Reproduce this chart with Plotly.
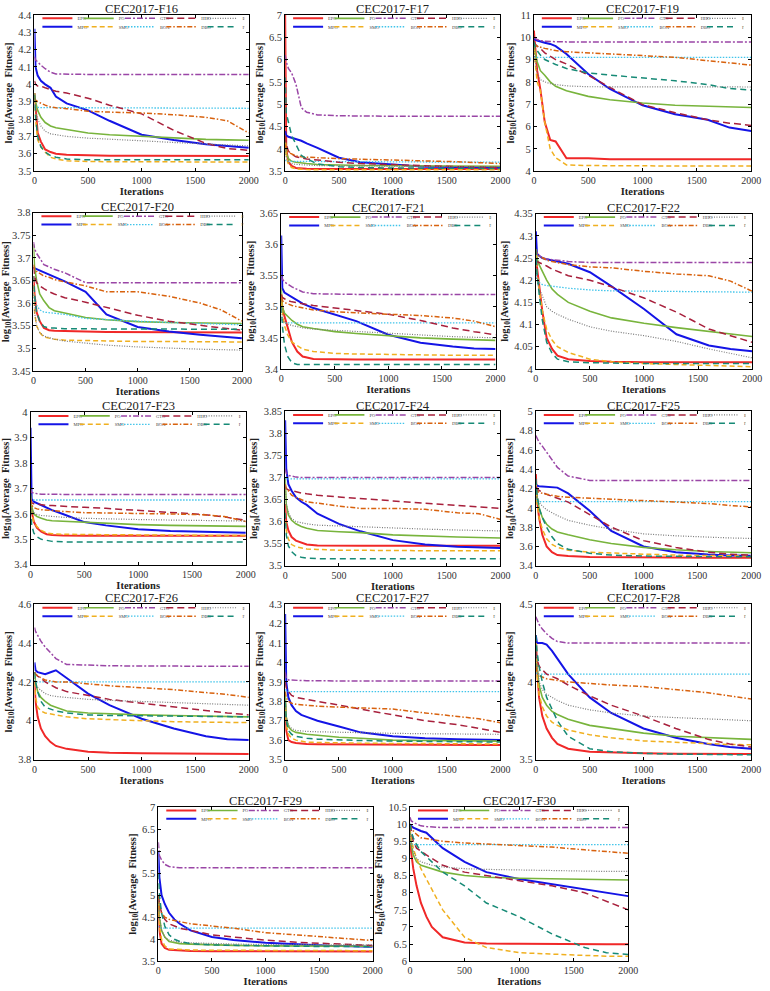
import plotly.graph_objects as go

# ---------------- data ----------------
ITER = [0, 10, 30, 60, 100, 150, 200, 300, 500, 700, 1000, 1300, 1600, 1800, 2000]
ALGOS = ["EPO", "MPO", "PO", "SMO", "GTO", "BOA", "HHO", "DBO", "BKA", "IVY"]
X_TICKS = [0, 500, 1000, 1500, 2000]

F16 = dict(
    EPO=[3.95, 3.85, 3.72, 3.67, 3.625, 3.61, 3.60, 3.595, 3.59, 3.589, 3.588, 3.588, 3.587, 3.587, 3.587],
    MPO=[4.32, 4.10, 4.05, 4.02, 4.00, 3.98, 3.93, 3.89, 3.85, 3.79, 3.71, 3.68, 3.655, 3.645, 3.635],
    PO=[3.95, 3.90, 3.85, 3.81, 3.78, 3.76, 3.75, 3.74, 3.72, 3.71, 3.70, 3.69, 3.683, 3.68, 3.678],
    SMO=[3.92, 3.80, 3.68, 3.64, 3.61, 3.58, 3.57, 3.56, 3.555, 3.554, 3.553, 3.553, 3.553, 3.553, 3.553],
    GTO=[4.16, 4.14, 4.13, 4.11, 4.09, 4.07, 4.06, 4.058, 4.057, 4.057, 4.057, 4.057, 4.057, 4.057, 4.057],
    BOA=[3.87, 3.868, 3.867, 3.866, 3.866, 3.866, 3.865, 3.865, 3.865, 3.864, 3.864, 3.863, 3.863, 3.862, 3.862],
    HHO=[4.02, 4.00, 3.99, 3.99, 3.98, 3.97, 3.96, 3.95, 3.92, 3.88, 3.83, 3.735, 3.66, 3.63, 3.62],
    DBO=[3.92, 3.91, 3.90, 3.89, 3.88, 3.87, 3.865, 3.86, 3.845, 3.84, 3.835, 3.825, 3.81, 3.79, 3.72],
    BKA=[3.90, 3.85, 3.80, 3.76, 3.73, 3.715, 3.71, 3.70, 3.69, 3.685, 3.675, 3.665, 3.655, 3.65, 3.645],
    IVY=[3.94, 3.82, 3.70, 3.64, 3.61, 3.59, 3.58, 3.57, 3.565, 3.565, 3.565, 3.565, 3.565, 3.565, 3.565],
)
F17 = dict(
    EPO=[7.0, 4.0, 3.70, 3.62, 3.57, 3.56, 3.555, 3.55, 3.55, 3.55, 3.55, 3.55, 3.55, 3.55, 3.55],
    MPO=[4.40, 4.30, 4.27, 4.25, 4.22, 4.18, 4.12, 4.02, 3.80, 3.70, 3.65, 3.60, 3.59, 3.585, 3.58],
    PO=[4.20, 3.90, 3.78, 3.72, 3.70, 3.68, 3.67, 3.65, 3.63, 3.625, 3.62, 3.615, 3.612, 3.61, 3.61],
    SMO=[4.30, 3.85, 3.65, 3.58, 3.55, 3.54, 3.535, 3.53, 3.53, 3.53, 3.53, 3.53, 3.53, 3.53, 3.53],
    GTO=[6.10, 5.95, 5.80, 5.70, 5.45, 4.92, 4.82, 4.76, 4.74, 4.73, 4.73, 4.73, 4.73, 4.73, 4.73],
    BOA=[3.75, 3.73, 3.72, 3.72, 3.72, 3.72, 3.72, 3.715, 3.71, 3.71, 3.705, 3.705, 3.70, 3.70, 3.70],
    HHO=[4.30, 4.10, 3.95, 3.88, 3.82, 3.79, 3.77, 3.75, 3.70, 3.67, 3.64, 3.62, 3.60, 3.59, 3.58],
    DBO=[4.10, 4.00, 3.92, 3.88, 3.84, 3.82, 3.81, 3.80, 3.78, 3.77, 3.75, 3.73, 3.71, 3.69, 3.67],
    BKA=[4.00, 3.80, 3.70, 3.67, 3.65, 3.64, 3.63, 3.625, 3.62, 3.615, 3.61, 3.605, 3.60, 3.60, 3.60],
    IVY=[5.60, 4.80, 4.60, 4.30, 4.10, 3.85, 3.78, 3.66, 3.60, 3.58, 3.57, 3.565, 3.56, 3.56, 3.56],
)
F19 = dict(
    EPO=[10.3, 9.8, 8.5, 7.65, 6.2, 5.4, 5.33, 4.58, 4.58, 4.53, 4.53, 4.53, 4.53, 4.53, 4.53],
    MPO=[10.0, 9.9, 9.85, 9.8, 9.75, 9.7, 9.6, 9.25, 8.35, 7.68, 6.95, 6.55, 6.3, 5.95, 5.8],
    PO=[9.6, 9.3, 8.9, 8.5, 8.3, 8.0, 7.8, 7.6, 7.35, 7.2, 7.05, 6.95, 6.9, 6.87, 6.85],
    SMO=[9.8, 9.0, 8.0, 7.6, 6.2, 5.0, 4.6, 4.28, 4.25, 4.24, 4.23, 4.23, 4.23, 4.23, 4.23],
    GTO=[10.0, 9.95, 9.9, 9.85, 9.82, 9.8, 9.8, 9.79, 9.78, 9.78, 9.78, 9.78, 9.78, 9.78, 9.78],
    BOA=[9.12, 9.1, 9.1, 9.1, 9.1, 9.1, 9.1, 9.1, 9.1, 9.1, 9.1, 9.1, 9.1, 9.1, 9.1],
    HHO=[9.8, 9.7, 9.6, 9.5, 9.3, 9.15, 9.0, 8.8, 8.3, 7.75, 6.98, 6.62, 6.3, 6.15, 6.05],
    DBO=[9.7, 9.65, 9.6, 9.55, 9.5, 9.45, 9.4, 9.35, 9.3, 9.25, 9.2, 9.1, 8.95, 8.85, 8.75],
    BKA=[9.5, 9.0, 8.4, 8.1, 8.0, 7.92, 7.88, 7.82, 7.78, 7.78, 7.77, 7.77, 7.77, 7.77, 7.77],
    IVY=[9.8, 9.6, 9.4, 9.2, 9.0, 8.88, 8.78, 8.6, 8.4, 8.3, 8.19, 8.05, 7.88, 7.7, 7.63],
)
F20 = dict(
    EPO=[3.66, 3.62, 3.58, 3.56, 3.545, 3.54, 3.539, 3.538, 3.537, 3.536, 3.536, 3.535, 3.535, 3.535, 3.535],
    MPO=[3.68, 3.677, 3.675, 3.672, 3.668, 3.663, 3.657, 3.648, 3.625, 3.575, 3.547, 3.537, 3.53, 3.526, 3.522],
    PO=[3.73, 3.68, 3.65, 3.62, 3.605, 3.59, 3.583, 3.578, 3.568, 3.563, 3.559, 3.557, 3.556, 3.555, 3.555],
    SMO=[3.64, 3.58, 3.55, 3.535, 3.525, 3.522, 3.52, 3.518, 3.517, 3.516, 3.515, 3.515, 3.514, 3.514, 3.514],
    GTO=[3.735, 3.72, 3.71, 3.70, 3.685, 3.68, 3.675, 3.667, 3.645, 3.645, 3.645, 3.645, 3.645, 3.645, 3.645],
    BOA=[3.62, 3.60, 3.595, 3.585, 3.58, 3.579, 3.578, 3.575, 3.566, 3.563, 3.56, 3.557, 3.555, 3.553, 3.552],
    HHO=[3.68, 3.66, 3.645, 3.638, 3.632, 3.625, 3.62, 3.612, 3.602, 3.59, 3.573, 3.56, 3.55, 3.545, 3.54],
    DBO=[3.685, 3.675, 3.67, 3.665, 3.66, 3.657, 3.652, 3.647, 3.638, 3.625, 3.625, 3.615, 3.60, 3.585, 3.56],
    BKA=[3.64, 3.58, 3.55, 3.535, 3.527, 3.524, 3.52, 3.516, 3.512, 3.507, 3.503, 3.50, 3.498, 3.497, 3.496],
    IVY=[3.66, 3.62, 3.58, 3.56, 3.548, 3.545, 3.545, 3.543, 3.543, 3.543, 3.542, 3.542, 3.542, 3.542, 3.542],
)
F21 = dict(
    EPO=[3.52, 3.50, 3.485, 3.465, 3.443, 3.428, 3.42, 3.416, 3.415, 3.415, 3.415, 3.415, 3.415, 3.415, 3.415],
    MPO=[3.615, 3.53, 3.523, 3.52, 3.515, 3.51, 3.505, 3.498, 3.488, 3.477, 3.455, 3.442, 3.436, 3.433, 3.432],
    PO=[3.53, 3.50, 3.49, 3.485, 3.478, 3.472, 3.468, 3.465, 3.46, 3.457, 3.453, 3.45, 3.448, 3.447, 3.446],
    SMO=[3.52, 3.49, 3.47, 3.455, 3.443, 3.437, 3.432, 3.428, 3.425, 3.424, 3.423, 3.423, 3.422, 3.422, 3.422],
    GTO=[3.55, 3.545, 3.54, 3.536, 3.532, 3.528, 3.524, 3.521, 3.52, 3.52, 3.52, 3.52, 3.52, 3.52, 3.52],
    BOA=[3.48, 3.475, 3.474, 3.474, 3.474, 3.474, 3.474, 3.474, 3.474, 3.474, 3.474, 3.474, 3.474, 3.474, 3.474],
    HHO=[3.52, 3.515, 3.513, 3.51, 3.508, 3.506, 3.505, 3.502, 3.498, 3.494, 3.488, 3.478, 3.466, 3.46, 3.455],
    DBO=[3.515, 3.51, 3.507, 3.505, 3.502, 3.50, 3.498, 3.495, 3.492, 3.49, 3.488, 3.486, 3.482, 3.477, 3.468],
    BKA=[3.50, 3.48, 3.475, 3.472, 3.47, 3.468, 3.466, 3.464, 3.462, 3.46, 3.457, 3.455, 3.452, 3.451, 3.45],
    IVY=[3.50, 3.47, 3.44, 3.42, 3.41, 3.407, 3.407, 3.407, 3.407, 3.407, 3.407, 3.407, 3.407, 3.407, 3.407],
)
F22 = dict(
    EPO=[4.27, 4.23, 4.19, 4.13, 4.07, 4.045, 4.03, 4.022, 4.018, 4.016, 4.015, 4.015, 4.015, 4.015, 4.015],
    MPO=[4.31, 4.26, 4.255, 4.25, 4.247, 4.245, 4.242, 4.237, 4.218, 4.186, 4.135, 4.078, 4.053, 4.045, 4.04],
    PO=[4.27, 4.25, 4.235, 4.22, 4.20, 4.18, 4.168, 4.15, 4.13, 4.115, 4.103, 4.093, 4.084, 4.078, 4.073],
    SMO=[4.26, 4.22, 4.18, 4.13, 4.09, 4.065, 4.05, 4.037, 4.022, 4.016, 4.012, 4.01, 4.007, 4.005, 4.005],
    GTO=[4.27, 4.26, 4.255, 4.25, 4.248, 4.246, 4.245, 4.242, 4.24, 4.24, 4.24, 4.24, 4.24, 4.24, 4.24],
    BOA=[4.22, 4.20, 4.195, 4.19, 4.188, 4.186, 4.185, 4.182, 4.178, 4.176, 4.175, 4.174, 4.174, 4.173, 4.173],
    HHO=[4.245, 4.242, 4.24, 4.237, 4.232, 4.225, 4.22, 4.21, 4.20, 4.185, 4.16, 4.128, 4.09, 4.075, 4.06],
    DBO=[4.27, 4.26, 4.255, 4.25, 4.245, 4.242, 4.24, 4.235, 4.23, 4.228, 4.22, 4.214, 4.21, 4.198, 4.175],
    BKA=[4.25, 4.20, 4.18, 4.165, 4.14, 4.13, 4.123, 4.112, 4.095, 4.085, 4.075, 4.062, 4.045, 4.035, 4.025],
    IVY=[4.27, 4.22, 4.17, 4.11, 4.06, 4.035, 4.022, 4.016, 4.014, 4.013, 4.012, 4.012, 4.012, 4.012, 4.012],
)
F23 = dict(
    EPO=[3.66, 3.61, 3.57, 3.545, 3.53, 3.52, 3.517, 3.515, 3.514, 3.514, 3.514, 3.514, 3.514, 3.514, 3.514],
    MPO=[3.94, 3.66, 3.648, 3.642, 3.635, 3.625, 3.615, 3.60, 3.568, 3.555, 3.54, 3.533, 3.529, 3.527, 3.526],
    PO=[3.68, 3.63, 3.60, 3.59, 3.583, 3.576, 3.573, 3.571, 3.567, 3.563, 3.558, 3.555, 3.553, 3.552, 3.551],
    SMO=[3.65, 3.60, 3.57, 3.55, 3.535, 3.525, 3.522, 3.52, 3.519, 3.518, 3.517, 3.516, 3.515, 3.515, 3.515],
    GTO=[3.70, 3.685, 3.682, 3.68, 3.678, 3.678, 3.677, 3.677, 3.677, 3.677, 3.677, 3.677, 3.677, 3.677, 3.677],
    BOA=[3.66, 3.656, 3.655, 3.655, 3.655, 3.655, 3.655, 3.655, 3.655, 3.655, 3.655, 3.655, 3.655, 3.655, 3.655],
    HHO=[3.66, 3.645, 3.64, 3.638, 3.636, 3.634, 3.633, 3.63, 3.626, 3.622, 3.615, 3.608, 3.598, 3.588, 3.575],
    DBO=[3.66, 3.635, 3.625, 3.62, 3.617, 3.615, 3.613, 3.61, 3.605, 3.603, 3.602, 3.60, 3.597, 3.59, 3.57],
    BKA=[3.65, 3.62, 3.605, 3.598, 3.594, 3.592, 3.59, 3.587, 3.583, 3.58, 3.578, 3.576, 3.574, 3.573, 3.572],
    IVY=[3.62, 3.56, 3.525, 3.51, 3.50, 3.495, 3.492, 3.49, 3.49, 3.49, 3.49, 3.49, 3.49, 3.49, 3.49],
)
F24 = dict(
    EPO=[3.64, 3.60, 3.58, 3.565, 3.557, 3.553, 3.548, 3.546, 3.545, 3.545, 3.545, 3.545, 3.545, 3.545, 3.545],
    MPO=[3.83, 3.72, 3.685, 3.67, 3.655, 3.645, 3.638, 3.618, 3.595, 3.578, 3.558, 3.548, 3.543, 3.541, 3.54],
    PO=[3.70, 3.64, 3.615, 3.603, 3.595, 3.589, 3.585, 3.58, 3.577, 3.575, 3.57, 3.567, 3.565, 3.564, 3.563],
    SMO=[3.62, 3.58, 3.56, 3.548, 3.543, 3.54, 3.538, 3.537, 3.535, 3.535, 3.534, 3.534, 3.534, 3.534, 3.534],
    GTO=[3.72, 3.71, 3.705, 3.703, 3.701, 3.70, 3.70, 3.70, 3.70, 3.70, 3.70, 3.70, 3.70, 3.70, 3.70],
    BOA=[3.70, 3.697, 3.697, 3.697, 3.697, 3.697, 3.697, 3.697, 3.697, 3.697, 3.697, 3.697, 3.697, 3.697, 3.697],
    HHO=[3.68, 3.675, 3.672, 3.67, 3.667, 3.665, 3.663, 3.66, 3.656, 3.652, 3.647, 3.642, 3.637, 3.634, 3.63],
    DBO=[3.685, 3.675, 3.67, 3.66, 3.655, 3.65, 3.645, 3.642, 3.635, 3.63, 3.63, 3.628, 3.62, 3.618, 3.605],
    BKA=[3.68, 3.64, 3.62, 3.607, 3.60, 3.597, 3.595, 3.592, 3.59, 3.588, 3.585, 3.583, 3.581, 3.58, 3.579],
    IVY=[3.62, 3.57, 3.545, 3.532, 3.523, 3.519, 3.517, 3.516, 3.516, 3.516, 3.516, 3.516, 3.516, 3.516, 3.516],
)
F25 = dict(
    EPO=[4.35, 4.10, 3.90, 3.72, 3.60, 3.54, 3.51, 3.50, 3.49, 3.487, 3.485, 3.484, 3.483, 3.483, 3.483],
    MPO=[4.25, 4.23, 4.225, 4.222, 4.218, 4.215, 4.21, 4.15, 3.97, 3.76, 3.60, 3.54, 3.515, 3.507, 3.503],
    PO=[4.25, 4.12, 4.00, 3.90, 3.83, 3.78, 3.75, 3.72, 3.67, 3.63, 3.59, 3.565, 3.548, 3.54, 3.535],
    SMO=[4.25, 4.05, 3.90, 3.78, 3.68, 3.62, 3.59, 3.56, 3.54, 3.53, 3.52, 3.51, 3.505, 3.502, 3.50],
    GTO=[4.75, 4.72, 4.68, 4.64, 4.58, 4.50, 4.42, 4.33, 4.285, 4.285, 4.285, 4.285, 4.285, 4.285, 4.285],
    BOA=[4.10, 4.07, 4.065, 4.065, 4.065, 4.065, 4.065, 4.065, 4.065, 4.065, 4.065, 4.065, 4.065, 4.065, 4.065],
    HHO=[4.22, 4.20, 4.18, 4.16, 4.14, 4.12, 4.10, 4.06, 3.93, 3.80, 3.66, 3.59, 3.54, 3.52, 3.51],
    DBO=[4.20, 4.18, 4.16, 4.15, 4.14, 4.13, 4.12, 4.11, 4.10, 4.09, 4.075, 4.06, 4.045, 4.025, 4.01],
    BKA=[4.20, 4.12, 4.06, 4.02, 3.98, 3.95, 3.92, 3.87, 3.82, 3.78, 3.73, 3.71, 3.695, 3.688, 3.683],
    IVY=[4.30, 4.15, 4.00, 3.90, 3.80, 3.70, 3.63, 3.57, 3.53, 3.51, 3.50, 3.495, 3.493, 3.492, 3.492],
)
F26 = dict(
    EPO=[4.20, 4.10, 4.02, 3.96, 3.92, 3.89, 3.87, 3.855, 3.84, 3.835, 3.832, 3.83, 3.829, 3.828, 3.828],
    MPO=[4.30, 4.26, 4.25, 4.245, 4.24, 4.25, 4.26, 4.22, 4.14, 4.08, 4.01, 3.96, 3.92, 3.905, 3.90],
    PO=[4.25, 4.20, 4.15, 4.12, 4.10, 4.08, 4.07, 4.05, 4.04, 4.035, 4.03, 4.027, 4.024, 4.022, 4.02],
    SMO=[4.20, 4.12, 4.07, 4.05, 4.04, 4.035, 4.03, 4.02, 4.01, 4.005, 4.00, 3.995, 3.992, 3.99, 3.99],
    GTO=[4.48, 4.46, 4.44, 4.41, 4.38, 4.35, 4.32, 4.29, 4.285, 4.283, 4.282, 4.281, 4.28, 4.28, 4.28],
    BOA=[4.21, 4.20, 4.20, 4.20, 4.20, 4.20, 4.20, 4.20, 4.20, 4.20, 4.20, 4.20, 4.20, 4.20, 4.20],
    HHO=[4.25, 4.24, 4.23, 4.22, 4.20, 4.185, 4.17, 4.15, 4.13, 4.11, 4.09, 4.07, 4.05, 4.04, 4.03],
    DBO=[4.25, 4.24, 4.23, 4.22, 4.21, 4.205, 4.20, 4.20, 4.19, 4.18, 4.17, 4.16, 4.145, 4.135, 4.12],
    BKA=[4.22, 4.19, 4.17, 4.155, 4.14, 4.13, 4.125, 4.12, 4.11, 4.105, 4.10, 4.095, 4.09, 4.085, 4.08],
    IVY=[4.25, 4.20, 4.15, 4.10, 4.07, 4.06, 4.05, 4.04, 4.03, 4.027, 4.025, 4.023, 4.021, 4.02, 4.02],
)
F27 = dict(
    EPO=[3.80, 3.65, 3.60, 3.59, 3.585, 3.582, 3.58, 3.579, 3.578, 3.577, 3.576, 3.576, 3.575, 3.575, 3.575],
    MPO=[4.25, 3.90, 3.82, 3.78, 3.75, 3.73, 3.72, 3.70, 3.67, 3.64, 3.62, 3.61, 3.605, 3.603, 3.60],
    PO=[3.85, 3.72, 3.67, 3.65, 3.64, 3.635, 3.63, 3.625, 3.615, 3.61, 3.60, 3.598, 3.596, 3.595, 3.595],
    SMO=[3.80, 3.68, 3.63, 3.61, 3.60, 3.595, 3.59, 3.588, 3.585, 3.584, 3.583, 3.582, 3.581, 3.58, 3.58],
    GTO=[3.95, 3.92, 3.91, 3.91, 3.908, 3.907, 3.906, 3.905, 3.905, 3.905, 3.905, 3.905, 3.905, 3.905, 3.905],
    BOA=[3.86, 3.855, 3.85, 3.85, 3.85, 3.85, 3.85, 3.85, 3.85, 3.85, 3.85, 3.85, 3.85, 3.85, 3.85],
    HHO=[3.90, 3.87, 3.85, 3.83, 3.82, 3.815, 3.81, 3.80, 3.78, 3.76, 3.73, 3.70, 3.68, 3.66, 3.64],
    DBO=[3.85, 3.82, 3.80, 3.79, 3.785, 3.782, 3.78, 3.775, 3.77, 3.765, 3.76, 3.74, 3.72, 3.71, 3.69],
    BKA=[3.80, 3.72, 3.68, 3.66, 3.65, 3.647, 3.645, 3.643, 3.64, 3.638, 3.635, 3.633, 3.632, 3.631, 3.63],
    IVY=[3.80, 3.70, 3.65, 3.63, 3.62, 3.615, 3.61, 3.605, 3.60, 3.598, 3.595, 3.593, 3.592, 3.591, 3.59],
)
F28 = dict(
    EPO=[4.30, 4.10, 3.90, 3.78, 3.70, 3.64, 3.60, 3.57, 3.55, 3.545, 3.54, 3.538, 3.536, 3.535, 3.535],
    MPO=[4.30, 4.25, 4.25, 4.25, 4.24, 4.20, 4.15, 4.05, 3.90, 3.80, 3.70, 3.64, 3.60, 3.58, 3.57],
    PO=[4.25, 4.10, 3.98, 3.90, 3.85, 3.81, 3.79, 3.76, 3.72, 3.70, 3.67, 3.65, 3.64, 3.635, 3.63],
    SMO=[4.25, 4.05, 3.92, 3.84, 3.78, 3.74, 3.72, 3.69, 3.66, 3.64, 3.62, 3.61, 3.60, 3.597, 3.595],
    GTO=[4.42, 4.40, 4.37, 4.34, 4.31, 4.28, 4.26, 4.25, 4.25, 4.25, 4.25, 4.25, 4.25, 4.25, 4.25],
    BOA=[4.06, 4.05, 4.05, 4.05, 4.05, 4.05, 4.05, 4.05, 4.05, 4.05, 4.05, 4.05, 4.05, 4.05, 4.05],
    HHO=[4.20, 4.15, 4.10, 4.08, 4.05, 4.035, 4.02, 3.98, 3.91, 3.85, 3.78, 3.70, 3.63, 3.60, 3.58],
    DBO=[4.10, 4.06, 4.04, 4.03, 4.02, 4.015, 4.01, 4.00, 3.99, 3.98, 3.97, 3.95, 3.93, 3.91, 3.89],
    BKA=[4.20, 4.10, 4.00, 3.95, 3.92, 3.90, 3.88, 3.85, 3.82, 3.80, 3.78, 3.77, 3.76, 3.755, 3.75],
    IVY=[4.30, 4.20, 4.10, 4.00, 3.90, 3.82, 3.75, 3.65, 3.57, 3.55, 3.54, 3.535, 3.532, 3.53, 3.53],
)
F29 = dict(
    EPO=[5.00, 4.20, 3.90, 3.80, 3.76, 3.75, 3.74, 3.735, 3.73, 3.728, 3.725, 3.723, 3.722, 3.72, 3.72],
    MPO=[6.00, 5.40, 5.00, 4.80, 4.60, 4.45, 4.35, 4.20, 4.05, 3.98, 3.92, 3.88, 3.85, 3.84, 3.83],
    PO=[5.00, 4.50, 4.20, 4.05, 3.95, 3.92, 3.90, 3.89, 3.87, 3.86, 3.85, 3.845, 3.842, 3.84, 3.84],
    SMO=[4.80, 4.30, 4.00, 3.85, 3.78, 3.77, 3.76, 3.755, 3.75, 3.748, 3.745, 3.743, 3.742, 3.741, 3.74],
    GTO=[6.20, 5.90, 5.80, 5.70, 5.65, 5.63, 5.62, 5.62, 5.62, 5.62, 5.62, 5.62, 5.62, 5.62, 5.62],
    BOA=[4.30, 4.26, 4.25, 4.25, 4.25, 4.25, 4.25, 4.25, 4.25, 4.25, 4.25, 4.25, 4.25, 4.25, 4.25],
    HHO=[5.00, 4.80, 4.60, 4.45, 4.35, 4.30, 4.25, 4.20, 4.10, 4.05, 3.98, 3.93, 3.90, 3.88, 3.86],
    DBO=[5.00, 4.70, 4.60, 4.50, 4.45, 4.42, 4.40, 4.35, 4.30, 4.25, 4.15, 4.10, 4.05, 4.00, 3.97],
    BKA=[5.00, 4.50, 4.20, 4.05, 3.98, 3.95, 3.93, 3.92, 3.90, 3.89, 3.88, 3.875, 3.872, 3.871, 3.87],
    IVY=[5.50, 5.00, 4.60, 4.30, 4.10, 4.00, 3.95, 3.90, 3.87, 3.86, 3.85, 3.84, 3.835, 3.832, 3.83],
)
F30 = dict(
    EPO=[9.80, 9.20, 8.70, 8.20, 7.70, 7.30, 7.00, 6.70, 6.55, 6.52, 6.51, 6.50, 6.50, 6.50, 6.50],
    MPO=[10.0, 9.95, 9.90, 9.85, 9.80, 9.75, 9.60, 9.30, 8.90, 8.60, 8.40, 8.25, 8.10, 8.00, 7.90],
    PO=[9.80, 9.40, 9.10, 8.90, 8.80, 8.75, 8.70, 8.60, 8.50, 8.45, 8.42, 8.40, 8.38, 8.37, 8.37],
    SMO=[9.90, 9.60, 9.30, 9.00, 8.70, 8.40, 8.10, 7.50, 6.70, 6.40, 6.25, 6.20, 6.17, 6.15, 6.15],
    GTO=[10.2, 10.1, 10.05, 10.0, 9.95, 9.93, 9.92, 9.90, 9.90, 9.90, 9.90, 9.90, 9.90, 9.90, 9.90],
    BOA=[9.50, 9.42, 9.40, 9.40, 9.40, 9.40, 9.40, 9.40, 9.40, 9.40, 9.40, 9.40, 9.40, 9.40, 9.40],
    HHO=[10.0, 9.80, 9.50, 9.30, 9.20, 9.10, 9.00, 8.80, 8.60, 8.50, 8.35, 8.20, 8.00, 7.75, 7.50],
    DBO=[10.0, 9.90, 9.80, 9.70, 9.60, 9.57, 9.55, 9.50, 9.45, 9.42, 9.38, 9.33, 9.25, 9.20, 9.15],
    BKA=[9.80, 9.50, 9.20, 9.00, 8.90, 8.85, 8.80, 8.75, 8.70, 8.68, 8.66, 8.64, 8.63, 8.62, 8.62],
    IVY=[10.0, 9.80, 9.60, 9.40, 9.20, 9.05, 8.90, 8.60, 8.20, 7.70, 7.30, 6.80, 6.40, 6.25, 6.20],
)

TITLES = ["CEC2017-F16", "CEC2017-F17", "CEC2017-F19", "CEC2017-F20", "CEC2017-F21",
          "CEC2017-F22", "CEC2017-F23", "CEC2017-F24", "CEC2017-F25", "CEC2017-F26",
          "CEC2017-F27", "CEC2017-F28", "CEC2017-F29", "CEC2017-F30"]
DATASETS = [F16, F17, F19, F20, F21, F22, F23, F24, F25, F26, F27, F28, F29, F30]
Y_RANGES = [(3.5, 4.4), (3.5, 7), (4, 11), (3.45, 3.8), (3.4, 3.65), (4, 4.35), (3.4, 4),
            (3.5, 3.85), (3.4, 5), (3.8, 4.6), (3.5, 4.3), (3.5, 4.5), (3.5, 7), (6, 10.5)]
Y_DTICKS = [0.1, 0.5, 1, 0.05, 0.05, 0.05, 0.1, 0.05, 0.2, 0.2, 0.1, 0.5, 0.5, 0.5]

# ---------------- layout / styles ----------------
W, H = 770, 991
# plot-area boxes in pixels: left, right, top, bottom
BOXES = [(32, 250, 10, 168), (287, 506, 10, 168), (540, 761, 10, 168),
         (31, 243, 210, 370), (283, 501, 211, 368), (542, 762, 211, 368),
         (28, 247, 412, 566), (287, 506, 411, 567), (542, 761, 411, 567),
         (32, 250, 606, 763), (287, 506, 606, 763), (542, 761, 606, 763),
         (158, 376, 811, 967), (414, 636, 811, 967)]

STYLE = {
    "EPO": dict(color="#F02828", width=2.0, dash="solid"),
    "MPO": dict(color="#1414E6", width=2.0, dash="solid"),
    "PO": dict(color="#78B43C", width=1.6, dash="solid"),
    "SMO": dict(color="#F0B020", width=1.5, dash="5px,3px"),
    "GTO": dict(color="#9A46A6", width=1.5, dash="6px,2px,2px,2px"),
    "BOA": dict(color="#40C4EA", width=1.3, dash="1.5px,1.5px"),
    "HHO": dict(color="#A8203C", width=1.5, dash="7px,4px"),
    "DBO": dict(color="#D8620E", width=1.5, dash="5px,2px,1.5px,2px"),
    "BKA": dict(color="#7A7A7A", width=1.2, dash="1px,1.5px"),
    "IVY": dict(color="#168A76", width=1.5, dash="6px,4px"),
}
ROW = {"EPO": 0, "PO": 0, "GTO": 0, "HHO": 0, "BKA": 0,
       "MPO": 1, "SMO": 1, "BOA": 1, "DBO": 1, "IVY": 1}

FONT = "Liberation Serif"
fig = go.Figure()
layout = dict(width=W, height=H, margin=dict(l=0, r=0, t=0, b=0),
              paper_bgcolor="white", plot_bgcolor="white", showlegend=True,
              font=dict(family=FONT, color="#222"))
annotations = []

ITEM_W = 42  # px per legend entry
for i, (title, data, box, yr, dt) in enumerate(zip(TITLES, DATASETS, BOXES, Y_RANGES, Y_DTICKS)):
    l, r, t, b = box
    n = "" if i == 0 else str(i + 1)
    legs = ["legend" if i == 0 else f"legend{2 * i + 1}", f"legend{2 * i + 2}"]
    for algo in ALGOS:
        st = STYLE[algo]
        fig.add_trace(go.Scatter(
            x=ITER, y=data[algo], mode="lines", name=algo,
            line=dict(color=st["color"], width=st["width"], dash=st["dash"]),
            xaxis="x" + n, yaxis="y" + n, legend=legs[ROW[algo]],
            hoverinfo="skip"))
    axis_common = dict(showline=True, linecolor="black", linewidth=1, mirror="ticks",
                       ticks="inside", ticklen=3, tickcolor="black", showgrid=False,
                       zeroline=False)
    layout["xaxis" + n] = dict(domain=[l / W, r / W], range=[0, 2000], anchor="y" + n,
                               tickvals=X_TICKS,
                               tickfont=dict(family=FONT, size=10, color="#333"),
                               title=dict(text="<b>Iterations</b>", standoff=0,
                                          font=dict(family=FONT, size=10.5, color="#222")),
                               **axis_common)
    layout["yaxis" + n] = dict(domain=[1 - b / H, 1 - t / H], range=list(yr), anchor="x" + n,
                               dtick=dt, tick0=yr[0],
                               tickfont=dict(family=FONT, size=10.5, color="#333"),
                               title=dict(text="<b>log<sub>10</sub>[Average&nbsp; Fitness]</b>",
                                          standoff=3,
                                          font=dict(family=FONT, size=10.5, color="#222")),
                               **axis_common)
    for k, leg in enumerate(legs):
        layout[leg] = dict(orientation="h", x=(l + 3) / W, xanchor="left",
                           y=1 - (t + 3.5 + 8.5 * k) / H, yanchor="middle",
                           bgcolor="rgba(0,0,0,0)", borderwidth=0,
                           font=dict(family=FONT, size=4.5, color="#444"),
                           entrywidthmode="fraction", entrywidth=ITEM_W / W,
                           itemclick=False, itemdoubleclick=False)
    annotations.append(dict(text=title, x=(l + r) / 2 / W, y=1 - (t - 6) / H,
                            xref="paper", yref="paper", xanchor="center", yanchor="middle",
                            showarrow=False, font=dict(family=FONT, size=12.5, color="#222")))

layout["annotations"] = annotations
fig.update_layout(**layout)
fig.write_html("out.html")
